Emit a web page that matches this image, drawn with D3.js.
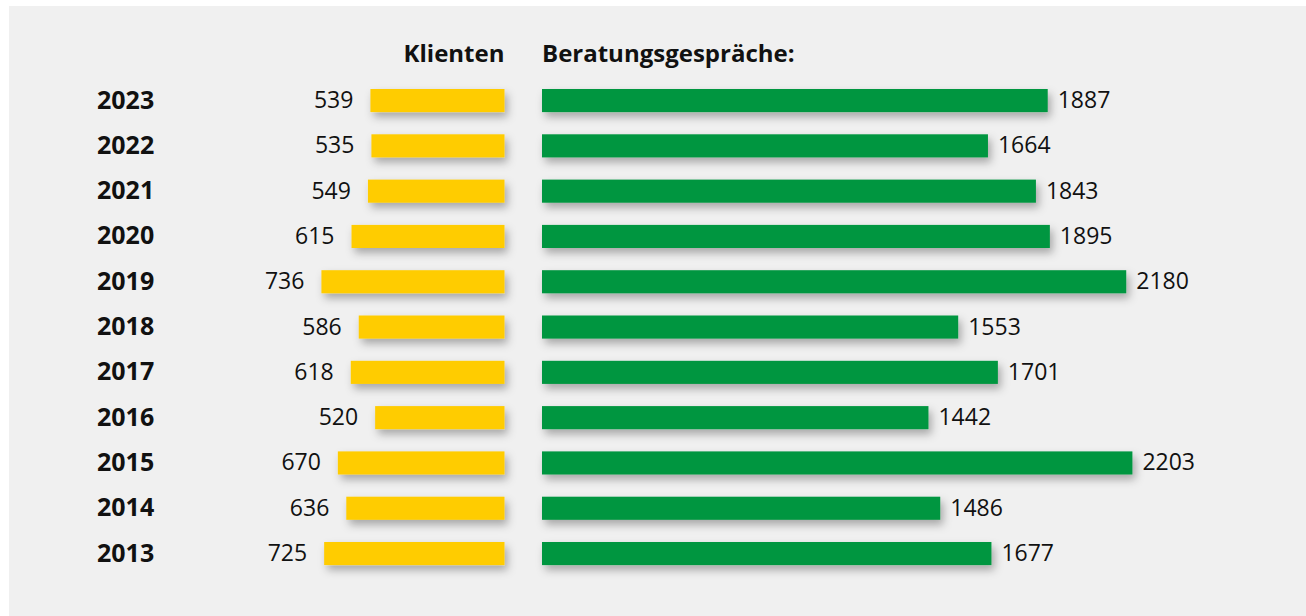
<!DOCTYPE html>
<html>
<head>
<meta charset="utf-8">
<script src="https://cdn.jsdelivr.net/npm/d3@7"></script>
<style>
  body { margin: 0; background: #fff; }
  svg { display: block; }
  text { font-family: "Open Sans", "Noto Sans", sans-serif; fill: #111; }
</style>
</head>
<body>
<div id="chart"></div>
<script>
const years = ['2023', '2022', '2021', '2020', '2019', '2018', '2017', '2016', '2015', '2014', '2013'];
const klienten = [539, 535, 549, 615, 736, 586, 618, 520, 670, 636, 725];
const beratungen = [1887, 1664, 1843, 1895, 2180, 1553, 1701, 1442, 2203, 1486, 1677];

const W = 1306, H = 616;
const svg = d3.select('#chart').append('svg').attr('width', W).attr('height', H);

// drop shadow under the bars
const defs = svg.append('defs');
const f = defs.append('filter').attr('id', 'shadow')
  .attr('x', '-10%').attr('y', '-60%').attr('width', '130%').attr('height', '240%');
f.append('feDropShadow').attr('dx', 3).attr('dy', 5).attr('stdDeviation', 4)
  .attr('flood-color', '#000').attr('flood-opacity', 0.3);

svg.append('rect').attr('x', 9).attr('y', 6).attr('width', W - 9).attr('height', H - 6).attr('fill', '#f0f0f0');

const y = d3.scaleBand().domain(years).range([77.9, 576.2]).paddingInner(0.49).paddingOuter(0.245);

const kRight = 504.5, bLeft = 542;
const xK = d3.scaleLinear().domain([0, 800]).range([0, 199]);
const xB = d3.scaleLinear().domain([0, 2500]).range([0, 670]);

const data = years.map((yr, i) => ({ yr, k: klienten[i], b: beratungen[i] }));

// headers
svg.append('text').attr('x', kRight).attr('y', 62).attr('text-anchor', 'end')
  .attr('font-size', 24).attr('font-weight', 700).text('Klienten');
svg.append('text').attr('x', bLeft).attr('y', 62)
  .attr('font-size', 24).attr('font-weight', 700).text('Beratungsgespräche:');

const row = svg.append('g').selectAll('g').data(data).join('g');

row.append('text').attr('x', 97).attr('y', d => y(d.yr) + y.bandwidth() / 2 + 8)
  .attr('font-size', 25).attr('font-weight', 700).text(d => d.yr);

row.append('rect')
  .attr('x', d => kRight - xK(d.k)).attr('y', d => y(d.yr))
  .attr('width', d => xK(d.k)).attr('height', y.bandwidth())
  .attr('fill', '#ffcc00').attr('filter', 'url(#shadow)');

row.append('rect')
  .attr('x', bLeft).attr('y', d => y(d.yr))
  .attr('width', d => xB(d.b)).attr('height', y.bandwidth())
  .attr('fill', '#00963f').attr('filter', 'url(#shadow)');

row.append('text').attr('x', d => kRight - xK(d.k) - 17).attr('y', d => y(d.yr) + y.bandwidth() / 2 + 7.5)
  .attr('text-anchor', 'end').attr('font-size', 23).text(d => d.k);

row.append('text').attr('x', d => bLeft + xB(d.b) + 10).attr('y', d => y(d.yr) + y.bandwidth() / 2 + 7.5)
  .attr('font-size', 23).text(d => d.b);
</script>
</body>
</html>
